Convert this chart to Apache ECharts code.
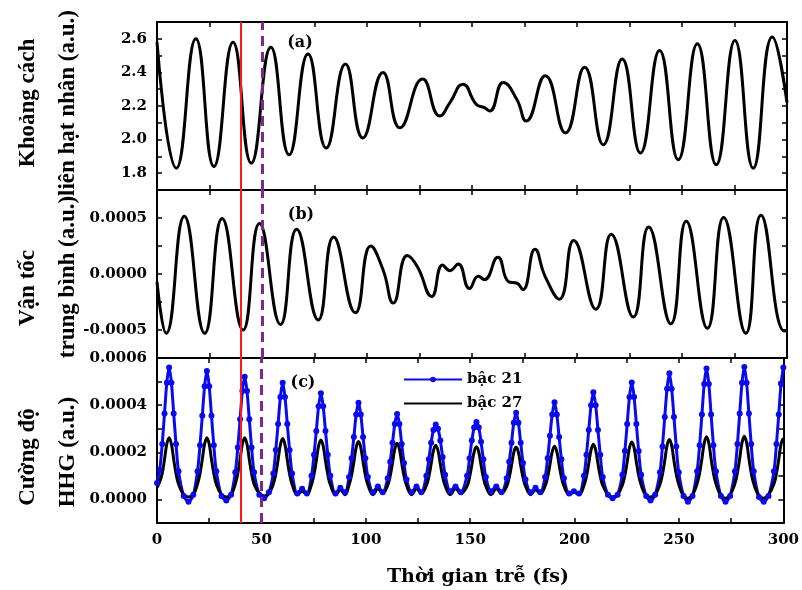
<!DOCTYPE html>
<html>
<head>
<meta charset="utf-8"/>
<title>HHG</title>
<script src="https://cdn.jsdelivr.net/npm/echarts@6/dist/echarts.min.js"></script>
</head>
<body style="margin:0">
<div id="main" style="width:802px;height:590px;"></div>
<script type="text/javascript">
// (a) khoảng cách liên hạt nhân (a.u.)
var tA = [0, 9.2, 18.5, 27.1, 36.2, 44.9, 54.2, 62.9, 71.9, 80.6, 89.7, 98.0, 107.6, 115.7, 126.5, 134.7,
    139.5, 145.7, 152.0, 155.9, 158.4, 164.9, 171.3, 175.8, 184.9, 194.5, 203.6, 212.5, 221.5, 230.2,
    239.3, 248.2, 257.3, 266.3, 275.2, 283.9, 293.0, 300];
var distA = [2.58, 1.83, 2.60, 1.84, 2.58, 1.86, 2.55, 1.91, 2.51, 1.95, 2.45, 2.01, 2.40, 2.07, 2.36, 2.14,
    2.22, 2.33, 2.21, 2.19, 2.17, 2.34, 2.24, 2.11, 2.38, 2.04, 2.43, 1.97, 2.48, 1.92,
    2.53, 1.88, 2.57, 1.85, 2.59, 1.83, 2.61, 2.22];

// (b) vận tốc trung bình, đơn vị 1e-4 a.u.
var tB = [0, 4.4, 13.0, 22.7, 31.0, 41.0, 48.8, 58.8, 66.5, 76.8, 84.1, 94.5, 101.8, 107.6, 112.5,
    119.2, 124.0, 130.8, 136.0, 139.5, 143.4, 148.8, 153.0, 155.9, 162.3, 167.5, 171.3, 174.2, 180.0,
    184.9, 191.6, 198.4, 209.0, 216.3, 226.8, 234.1, 244.7, 252.0, 262.1, 269.8, 280.4, 287.6, 298.8, 300];
var velB = [-0.7, -5.3, 5.15, -5.3, 4.95, -5.0, 4.5, -4.5, 4.0, -4.1, 3.3, -3.45, 2.5, 0.4, -2.6,
    1.65, 0.65, -2.0, 0.8, 0.3, 0.9, -1.3, -0.2, -0.5, 1.5, -0.7, -0.8, -1.4, 2.2,
    -0.25, -2.25, 3.0, -3.15, 3.55, -3.85, 4.2, -4.45, 4.7, -4.85, 5.05, -5.3, 5.25, -5.1, -5.0];

// (c) cường độ HHG, đơn vị 1e-4 a.u.
var tC = [0,
    1.3, 2.5, 3.6, 4.7, 5.8, 6.9, 8.0, 9.1, 10.3, 12.8, 15.1, 17.4,
    19.4, 20.6, 21.7, 22.8, 23.9, 25.0, 26.1, 27.2, 28.4, 30.9, 33.2, 35.5,
    37.5, 38.7, 39.8, 40.9, 42.0, 43.1, 44.2, 45.3, 46.5, 49.0, 51.3, 53.6,
    55.7, 56.9, 58.0, 59.1, 60.2, 61.3, 62.4, 63.5, 64.7, 67.2, 69.5, 71.8,
    74.0, 75.2, 76.3, 77.4, 78.5, 79.6, 80.7, 81.8, 83.0, 85.5, 87.8, 90.1,
    92.0, 93.2, 94.3, 95.4, 96.5, 97.6, 98.7, 99.8, 101.0, 103.5, 105.8, 108.1,
    110.5, 111.7, 112.8, 113.9, 115.0, 116.1, 117.2, 118.3, 119.5, 122.0, 124.3, 126.6,
    129.0, 130.2, 131.3, 132.4, 133.5, 134.6, 135.7, 136.8, 138.0, 140.5, 143.0, 145.5,
    148.5, 149.7, 150.8, 151.9, 153.0, 154.1, 155.2, 156.3, 157.5, 160.0, 162.5, 165.0,
    167.5, 168.7, 169.8, 170.9, 172.0, 173.1, 174.2, 175.3, 176.5, 179.0, 181.3, 183.6,
    185.9, 187.1, 188.2, 189.3, 190.4, 191.5, 192.6, 193.7, 194.9, 197.4, 199.7, 202.2,
    204.5, 205.7, 206.8, 207.9, 209.0, 210.1, 211.2, 212.3, 213.5, 216.0, 218.2, 220.6,
    222.9, 224.1, 225.2, 226.3, 227.4, 228.5, 229.6, 230.7, 231.9, 234.3, 236.4, 238.6,
    240.9, 242.1, 243.2, 244.3, 245.4, 246.5, 247.6, 248.7, 249.9, 252.2, 254.3, 256.5,
    258.7, 259.9, 261.0, 262.1, 263.2, 264.3, 265.4, 266.5, 267.7, 270.1, 272.3, 274.5,
    276.8, 278.0, 279.1, 280.2, 281.3, 282.4, 283.5, 284.6, 285.8, 288.3, 290.6, 292.9,
    295.5, 296.7, 297.8, 298.9, 300];
var hhg21 = [0.7,
    1.25, 2.35, 3.65, 4.95, 5.6, 4.95, 3.65, 2.35, 1.2, 0.15, -0.1, 0.2,
    1.2, 2.3, 3.55, 4.8, 5.45, 4.8, 3.55, 2.3, 1.2, 0.15, -0.05, 0.2,
    1.15, 2.2, 3.4, 4.6, 5.2, 4.6, 3.4, 2.2, 1.15, 0.2, 0.05, 0.3,
    1.1, 2.1, 3.2, 4.35, 4.95, 4.35, 3.2, 2.1, 1.1, 0.25, 0.45, 0.25,
    1.0, 1.9, 2.9, 3.95, 4.5, 3.95, 2.9, 1.9, 1.0, 0.25, 0.5, 0.3,
    0.95, 1.75, 2.65, 3.6, 4.1, 3.6, 2.65, 1.75, 0.95, 0.3, 0.55, 0.3,
    0.9, 1.6, 2.4, 3.2, 3.62, 3.2, 2.35, 1.55, 0.85, 0.3, 0.55, 0.3,
    1.0, 1.7, 2.4, 2.95, 3.18, 3.0, 2.5, 1.8, 1.05, 0.35, 0.55, 0.3,
    1.0, 1.75, 2.5, 3.05, 3.28, 3.05, 2.45, 1.7, 0.95, 0.35, 0.55, 0.3,
    0.9, 1.6, 2.4, 3.25, 3.68, 3.25, 2.4, 1.55, 0.85, 0.3, 0.5, 0.3,
    0.95, 1.75, 2.7, 3.6, 4.12, 3.6, 2.65, 1.7, 0.9, 0.25, 0.35, 0.25,
    1.0, 1.9, 2.95, 4.0, 4.55, 4.0, 2.95, 1.9, 0.95, 0.2, 0.05, 0.2,
    1.05, 2.05, 3.2, 4.35, 4.96, 4.35, 3.2, 2.05, 1.05, 0.15, -0.05, 0.2,
    1.15, 2.25, 3.5, 4.7, 5.35, 4.7, 3.5, 2.25, 1.15, 0.15, -0.1, 0.15,
    1.2, 2.3, 3.6, 4.9, 5.55, 4.9, 3.6, 2.3, 1.2, 0.15, -0.1, 0.15,
    1.2, 2.35, 3.65, 4.95, 5.62, 4.95, 3.65, 2.35, 1.2, 0.1, -0.1, 0.15,
    1.2, 2.35, 3.6, 4.9, 5.6];
var hhg27 = [0.5,
    0.75, 1.1, 1.7, 2.35, 2.62, 2.35, 1.7, 1.1, 0.65, 0.2, 0.1, 0.2,
    0.65, 1.1, 1.7, 2.35, 2.62, 2.35, 1.7, 1.1, 0.65, 0.2, 0.1, 0.2,
    0.65, 1.1, 1.7, 2.35, 2.62, 2.35, 1.7, 1.1, 0.65, 0.25, 0.15, 0.25,
    0.65, 1.08, 1.68, 2.32, 2.58, 2.32, 1.68, 1.08, 0.65, 0.2, 0.35, 0.2,
    0.63, 1.06, 1.64, 2.27, 2.52, 2.27, 1.64, 1.06, 0.63, 0.2, 0.4, 0.2,
    0.62, 1.03, 1.6, 2.21, 2.46, 2.21, 1.6, 1.03, 0.62, 0.2, 0.45, 0.25,
    0.6, 1.0, 1.55, 2.14, 2.38, 2.14, 1.55, 1.0, 0.6, 0.2, 0.45, 0.25,
    0.58, 0.97, 1.5, 2.07, 2.3, 2.07, 1.5, 0.97, 0.58, 0.2, 0.45, 0.25,
    0.56, 0.94, 1.46, 2.02, 2.24, 2.02, 1.46, 0.94, 0.56, 0.2, 0.45, 0.25,
    0.56, 0.93, 1.44, 2.0, 2.22, 2.0, 1.44, 0.93, 0.56, 0.2, 0.4, 0.25,
    0.57, 0.95, 1.47, 2.03, 2.26, 2.03, 1.47, 0.95, 0.57, 0.2, 0.3, 0.2,
    0.59, 0.98, 1.52, 2.1, 2.34, 2.1, 1.52, 0.98, 0.59, 0.2, 0.1, 0.2,
    0.61, 1.02, 1.59, 2.2, 2.44, 2.2, 1.59, 1.02, 0.61, 0.15, 0.1, 0.2,
    0.64, 1.07, 1.65, 2.29, 2.54, 2.29, 1.65, 1.07, 0.64, 0.15, 0.05, 0.2,
    0.67, 1.12, 1.73, 2.39, 2.66, 2.39, 1.73, 1.12, 0.67, 0.15, 0.05, 0.2,
    0.67, 1.13, 1.74, 2.41, 2.68, 2.41, 1.74, 1.13, 0.67, 0.15, 0.05, 0.2,
    0.66, 1.1, 1.7, 2.35, 2.6];

// nhãn trục
var labelsX = [0, 50, 100, 150, 200, 250, 300];
var labelsA = [1.8, 2.0, 2.2, 2.4, 2.6];
var labelsB = [-5, 0, 5];
var labelsC = [0, 2, 4, 6];

var markT = [40, 50]; // vạch đỏ và vạch tím

function pairs(xs, ys) {
    return xs.map(function (x, i) { return [x, ys[i]]; });
}
function has(list, v) {
    return list.some(function (l) { return Math.abs(l - v) < 1e-6; });
}

var lblFont = {fontFamily: 'DejaVu Serif', fontWeight: 'bold', fontSize: 15, color: '#000'};
var axLine = {show: true, onZero: false, lineStyle: {color: '#000', width: 2}};
var axTick = {show: true, inside: true, length: 5, lineStyle: {color: '#000', width: 1.5}};

var grids = [
    {left: 157, right: 15, top: 22, height: 168},
    {left: 157, right: 15, top: 190, height: 168},
    {left: 157, right: 15, top: 358, height: 165}
];

var xAxes = [];
for (var i = 0; i < 3; i++) {
    ['bottom', 'top'].forEach(function (pos) {
        xAxes.push({
            type: 'value', gridIndex: i, position: pos, min: 0, max: 300, interval: 25,
            axisLine: axLine, axisTick: axTick, splitLine: {show: false},
            axisLabel: Object.assign({
                show: i === 2 && pos === 'bottom', margin: 10,
                formatter: function (v) { return has(labelsX, v) ? String(v) : ''; }
            }, lblFont)
        });
    });
}

var yRange = [
    {min: 1.7, max: 2.7, interval: 0.1, fmt: function (v) { return has(labelsA, v) ? v.toFixed(1) : ''; }},
    {min: -7.5, max: 7.5, interval: 2.5, fmt: function (v) { return has(labelsB, v) ? (v * 1e-4).toFixed(4) : ''; }},
    {min: -1, max: 6, interval: 1, fmt: function (v) { return has(labelsC, v) ? (v * 1e-4).toFixed(4) : ''; }}
];
var yAxes = [];
yRange.forEach(function (r, i) {
    ['left', 'right'].forEach(function (pos) {
        yAxes.push({
            type: 'value', gridIndex: i, position: pos, min: r.min, max: r.max, interval: r.interval,
            axisLine: axLine, axisTick: axTick, splitLine: {show: false},
            axisLabel: Object.assign({show: pos === 'left', margin: 10, formatter: r.fmt}, lblFont)
        });
    });
});

var vLines = {
    silent: true, symbol: ['none', 'none'], label: {show: false}, animation: false,
    data: [
        {xAxis: markT[0], lineStyle: {color: '#ff1a1a', width: 2, type: 'solid'}},
        {xAxis: markT[1], lineStyle: {color: '#7b2a8c', width: 3, type: [10, 6]}}
    ]
};

var myChart = echarts.init(document.getElementById('main'));
myChart.setOption({
    animation: false,
    backgroundColor: '#fff',
    grid: grids,
    xAxis: xAxes,
    yAxis: yAxes,
    legend: {
        left: 398, top: 367, orient: 'vertical', itemWidth: 58, itemHeight: 7, itemGap: 9,
        data: [{name: 'bậc 21'}, {name: 'bậc 27', itemStyle: {opacity: 0}}],
        textStyle: {fontFamily: 'DejaVu Serif', fontWeight: 'bold', fontSize: 15, color: '#000'}
    },
    series: [
        {
            type: 'line', xAxisIndex: 0, yAxisIndex: 0, data: pairs(tA, distA), smooth: 0.5,
            showSymbol: false, lineStyle: {color: '#000', width: 3}, markLine: vLines
        },
        {
            type: 'line', xAxisIndex: 2, yAxisIndex: 2, data: pairs(tB, velB), smooth: 0.5,
            showSymbol: false, lineStyle: {color: '#000', width: 3}, markLine: vLines
        },
        {
            name: 'bậc 21', type: 'line', xAxisIndex: 4, yAxisIndex: 4, data: pairs(tC, hhg21), smooth: 0.3,
            symbol: 'circle', symbolSize: 6, showSymbol: true,
            itemStyle: {color: '#0a0af0'}, lineStyle: {color: '#0a0af0', width: 3}
        },
        {
            name: 'bậc 27', type: 'line', xAxisIndex: 4, yAxisIndex: 4, data: pairs(tC, hhg27), smooth: 0.4,
            symbol: 'none', itemStyle: {color: '#000'}, lineStyle: {color: '#000', width: 3},
            markLine: vLines
        }
    ],
    graphic: [
        {type: 'text', x: 28, y: 103, rotation: Math.PI / 2,
            style: {text: 'Khoảng cách', font: 'bold 23px "Liberation Serif"', textAlign: 'center', textVerticalAlign: 'middle', fill: '#000'}},
        {type: 'text', x: 68, y: 103, rotation: Math.PI / 2,
            style: {text: 'liên hạt nhân (a.u.)', font: 'bold 23px "Liberation Serif"', textAlign: 'center', textVerticalAlign: 'middle', fill: '#000'}},
        {type: 'text', x: 28, y: 288, rotation: Math.PI / 2,
            style: {text: 'Vận tốc', font: 'bold 23px "Liberation Serif"', textAlign: 'center', textVerticalAlign: 'middle', fill: '#000'}},
        {type: 'text', x: 68, y: 277, rotation: Math.PI / 2,
            style: {text: 'trung bình (a.u.)', font: 'bold 23px "Liberation Serif"', textAlign: 'center', textVerticalAlign: 'middle', fill: '#000'}},
        {type: 'text', x: 28, y: 457, rotation: Math.PI / 2,
            style: {text: 'Cường độ', font: 'bold 23px "Liberation Serif"', textAlign: 'center', textVerticalAlign: 'middle', fill: '#000'}},
        {type: 'text', x: 68, y: 452, rotation: Math.PI / 2,
            style: {text: 'HHG (a.u.)', font: 'bold 23px "Liberation Serif"', textAlign: 'center', textVerticalAlign: 'middle', fill: '#000'}},
        {type: 'text', x: 478, y: 577,
            style: {text: 'Thời gian trễ (fs)', font: 'bold 19px "DejaVu Serif"', textAlign: 'center', textVerticalAlign: 'middle', fill: '#000'}},
        {type: 'text', x: 300, y: 43,
            style: {text: '(a)', font: 'bold 16px "DejaVu Serif"', textAlign: 'center', textVerticalAlign: 'middle', fill: '#000'}},
        {type: 'text', x: 301, y: 215,
            style: {text: '(b)', font: 'bold 16px "DejaVu Serif"', textAlign: 'center', textVerticalAlign: 'middle', fill: '#000'}},
        {type: 'text', x: 303, y: 383,
            style: {text: '(c)', font: 'bold 16px "DejaVu Serif"', textAlign: 'center', textVerticalAlign: 'middle', fill: '#000'}}
    ]
});
</script>
</body>
</html>
